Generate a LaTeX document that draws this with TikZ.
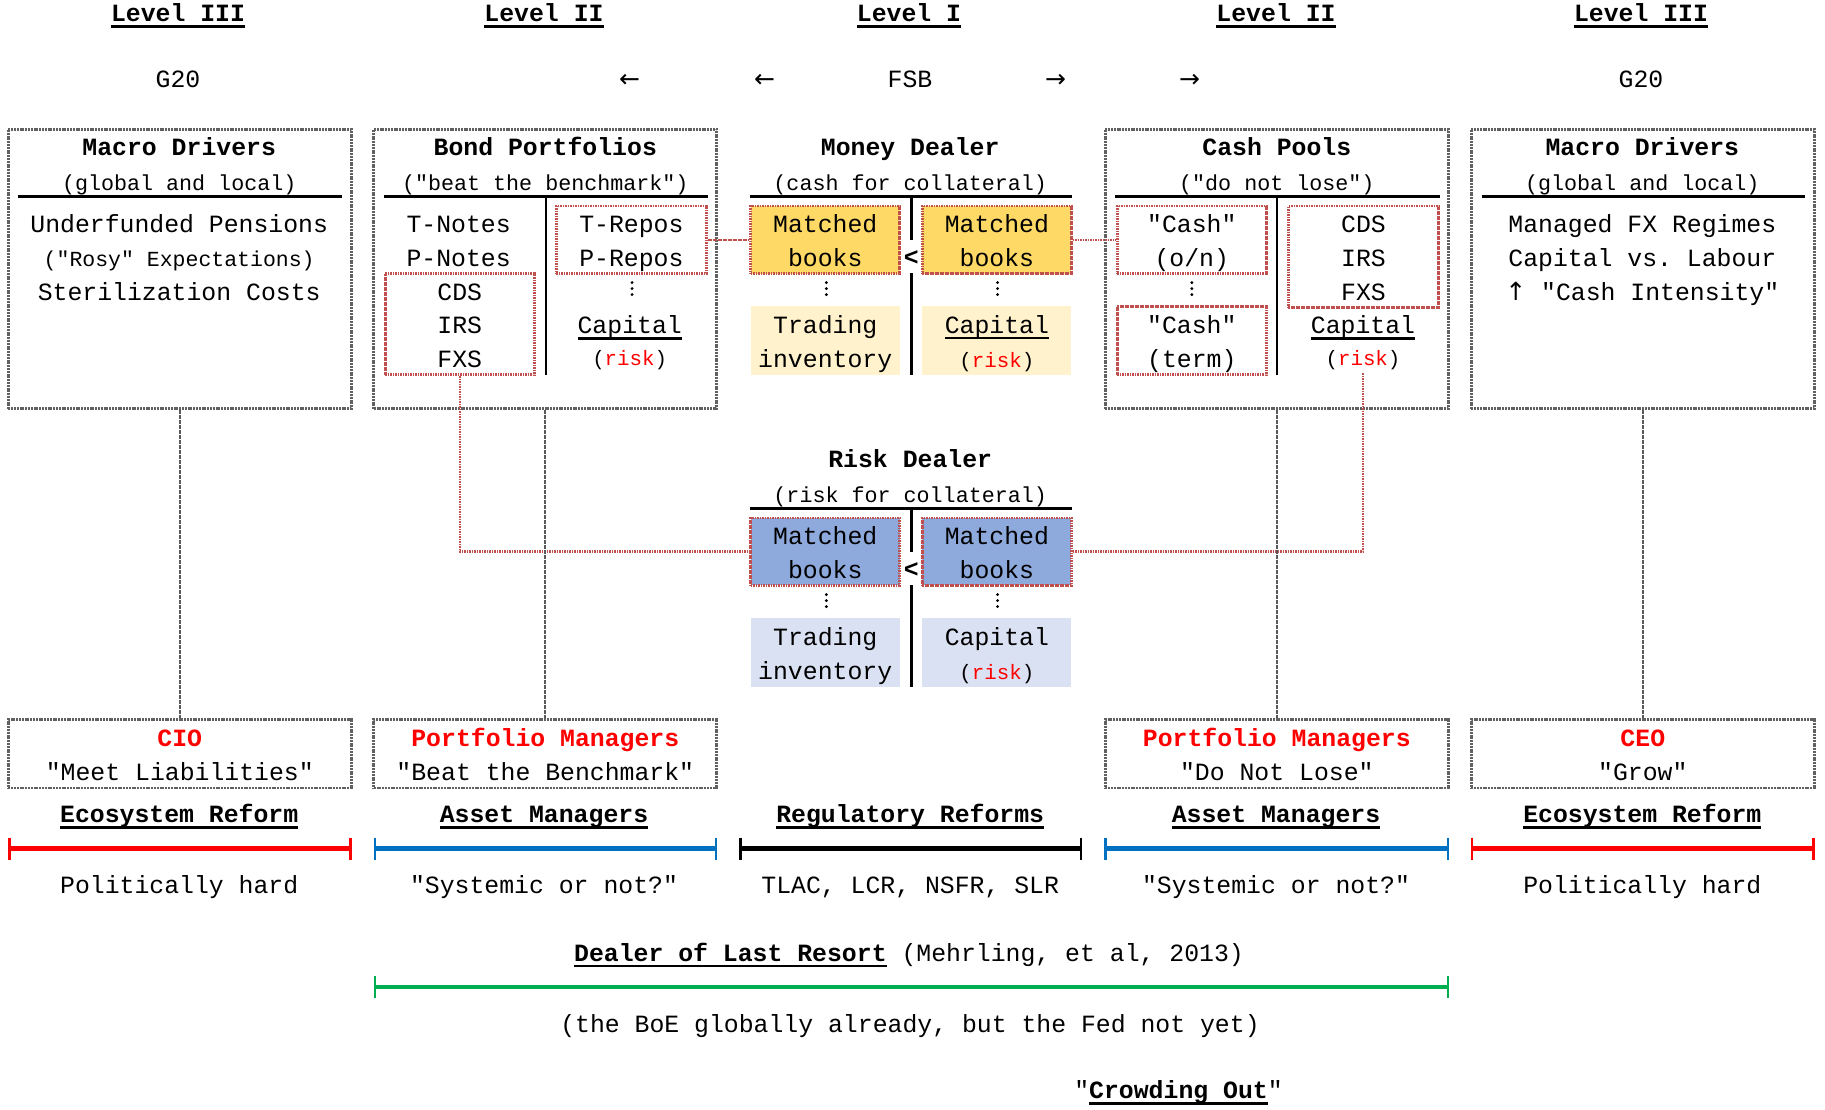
\documentclass[tikz,border=0pt]{standalone}
\usepackage{fontspec}
\setmonofont{Liberation Mono}
\renewcommand\familydefault{\ttdefault}
\newfontfamily\arrfont{DejaVu Sans}
\definecolor{rb}{RGB}{192,80,77}
\definecolor{ydark}{RGB}{255,217,102}
\definecolor{ylight}{RGB}{255,242,204}
\definecolor{bdark}{RGB}{142,169,219}
\definecolor{blight}{RGB}{217,225,242}
\definecolor{myred}{RGB}{255,0,0}
\definecolor{myblue}{RGB}{0,112,192}
\definecolor{mygreen}{RGB}{0,176,80}
\newcommand\ulx[1]{\setbox0=\hbox{#1}\rlap{\rule[-6pt]{\wd0}{2.5pt}}\box0}
\newcommand\rk{{\fontsize{20.8}{20.8}\selectfont(\textcolor{myred}{risk})}}
\newcommand\lns[1]{\rule{0pt}{26pt}#1\rule[-6.6pt]{0pt}{6.6pt}}
\newcommand\arw[1]{{\arrfont\fontsize{25}{25}\selectfont #1}}
\newcommand\mybar[4]{\draw[#1,line width=4.5] (#2,#4)--(#3,#4);
  \draw[#1,line width=2.5] (#2,#4-11)--(#2,#4+11) (#3,#4-11)--(#3,#4+11);}
\begin{document}
\begin{tikzpicture}[x=1pt,y=-1pt,
  every node/.style={font=\fontsize{24.8}{33.8}\selectfont, inner sep=0pt},
  t/.style={anchor=base},
  sub/.style={anchor=base, font=\fontsize{21.7}{33.8}\selectfont},
  tb/.style={anchor=base, font=\fontsize{24.8}{33.8}\selectfont\bfseries},
  gbox/.style={draw=black!62, line width=2.7, dash pattern=on 2pt off 0.8pt, minimum width=343, align=center},
  rbox/.style={draw=rb, line width=2.8, dash pattern=on 1.6pt off 0.9pt, align=center},
  ybox/.style={rbox, fill=ydark, minimum width=149, minimum height=67.5},
  bbox/.style={rbox, fill=bdark, minimum width=149, minimum height=67.5},
  lybox/.style={fill=ylight, minimum width=149, minimum height=68.7, align=center},
  lbbox/.style={fill=blight, minimum width=149, minimum height=68.7, align=center},
  rline/.style={draw=rb, line width=2.5, dash pattern=on 1.6pt off 0.9pt},
  gline/.style={draw=black!65, line width=2, dash pattern=on 1.6pt off 0.9pt},
  rule/.style={line width=2.5},
  vd/.pic={\fill (0,-6) circle (1.6); \fill (0,0) circle (1.6); \fill (0,6) circle (1.6);}
]
\useasboundingbox (0,0) rectangle (1825,1110);

% ---- top row
\node[tb] (lv1) at (178,22) {\ulx{Level III}};
\node[tb] (lv2) at (544,22) {\ulx{Level II}};
\node[tb] (lv3) at (909,22) {\ulx{Level I}};
\node[tb] (lv4) at (1276,22) {\ulx{Level II}};
\node[tb] (lv5) at (1641,22) {\ulx{Level III}};
\node[t] (g1) at (178,88) {G20};
\node[t] (a1) at (629.7,88) {\arw{←}};
\node[t] (a2) at (764.7,88) {\arw{←}};
\node[t] (fsb) at (910,88) {FSB};
\node[t] (a3) at (1055.7,88) {\arw{→}};
\node[t] (a4) at (1189.5,88) {\arw{→}};
\node[t] (g2) at (1641,88) {G20};

% ---- big boxes
\node[gbox, minimum height=279.3] (mdL) at (179.8,268.9) {};
\node[gbox, minimum height=279.3] (bp) at (545.3,268.9) {};
\node[gbox, minimum height=279.3] (cp) at (1276.8,268.9) {};
\node[gbox, minimum height=279.3] (mdR) at (1642.8,268.9) {};

% Macro drivers left
\node[tb] (mdLt) at (179.2,155.8) {Macro Drivers};
\node[sub] (mdLs) at (179.2,190.7) {(global and local)};
\draw[rule] (17.5,196.7) -- (342.2,196.7);
\node[t] (mdL1) at (179.2,232.6) {Underfunded Pensions};
\node[t, font=\fontsize{21.5}{25}\selectfont] (mdL2) at (179.2,266.4) {("Rosy" Expectations)};
\node[t] (mdL3) at (179.2,300.1) {Sterilization Costs};

% Bond portfolios
\node[tb] (bpt) at (545.3,155.8) {Bond Portfolios};
\node[sub] (bps) at (545.3,190.7) {("beat the benchmark")};
\draw[rule] (384,196.7) -- (707.6,196.7);
\draw[rule] (545.9,196.7) -- (545.9,374.8);
\node[t] (tn) at (458.6,232.6) {T-Notes};
\node[t] (pn) at (458.6,266.4) {P-Notes};
\node[rbox, minimum width=148.9, minimum height=101.3] (bpd) at (459.8,324.2) {\lns{CDS\\IRS\\FXS}};
\node[rbox, minimum width=150.2, minimum height=67.5] (bpr) at (631.4,239.8) {\lns{T-Repos\\P-Repos}};
\pic at (632,288.6) {vd};
\node[t] (bpc) at (629.7,333.9) {\ulx{Capital}};
\node[t] (bpk) at (629.7,365.3) {\rk};

% Money dealer
\node[tb] (mdt) at (910.2,155.8) {Money Dealer};
\node[sub] (mds) at (910.2,190.7) {(cash for collateral)};
\draw[rule] (749.6,196.7) -- (1072,196.7);
\draw[rule] (911.3,196.7) -- (911.3,240) (911.3,273) -- (911.3,374.8);
\node[ybox] (mbL) at (825.2,239.8) {\lns{Matched\\books}};
\node[ybox] (mbR) at (996.9,239.8) {\lns{Matched\\books}};
\node[tb] (mlt) at (911.3,265.2) {<};
\pic at (826.4,288.6) {vd};
\pic at (997.5,288.6) {vd};
\node[lybox] (mti) at (825.2,340.5) {\lns{Trading\\inventory}};
\node[lybox] (mcap) at (996.9,340.5) {\lns{\ulx{Capital}\\\rk}};

% Cash pools
\node[tb] (cpt) at (1276.8,155.8) {Cash Pools};
\node[sub] (cps) at (1276.8,190.7) {("do not lose")};
\draw[rule] (1115,196.7) -- (1439.8,196.7);
\draw[rule] (1276.8,196.7) -- (1276.8,374.8);
\node[rbox, minimum width=149, minimum height=67.5] (con) at (1191.8,239.8) {\lns{"Cash"\\(o/n)}};
\pic at (1191.8,288.6) {vd};
\node[rbox, minimum width=149, minimum height=68.7] (ctm) at (1191.8,340.5) {\lns{"Cash"\\(term)}};
\node[rbox, minimum width=150.2, minimum height=101.3] (cpd) at (1363.5,256.7) {\lns{CDS\\IRS\\FXS}};
\node[t] (cpc) at (1363,333.9) {\ulx{Capital}};
\node[t] (cpk) at (1363,365.3) {\rk};
\coordinate (cpr) at (1363,373);

% Macro drivers right
\node[tb] (mdRt) at (1642.3,155.8) {Macro Drivers};
\node[sub] (mdRs) at (1642.3,190.7) {(global and local)};
\draw[rule] (1481.6,196.7) -- (1805.2,196.7);
\node[t] (mdR1) at (1642.3,232.6) {Managed FX Regimes};
\node[t] (mdR2) at (1642.3,266.4) {Capital vs. Labour};
\node[t] (mdR3) at (1642.3,300.1) {\arw{↑} "Cash Intensity"};

% Risk dealer
\node[tb] (rdt) at (910.2,467.7) {Risk Dealer};
\node[sub] (rds) at (910.2,502.7) {(risk for collateral)};
\draw[rule] (749.6,508.6) -- (1072,508.6);
\draw[rule] (911.3,508.6) -- (911.3,552) (911.3,585) -- (911.3,686.7);
\node[bbox] (rbL) at (825.2,551.7) {\lns{Matched\\books}};
\node[bbox] (rbR) at (996.9,551.7) {\lns{Matched\\books}};
\node[tb] (rlt) at (911.3,577.1) {<};
\pic at (826.4,600.6) {vd};
\pic at (997.5,600.6) {vd};
\node[lbbox] (rti) at (825.2,652.4) {\lns{Trading\\inventory}};
\node[lbbox] (rcap) at (996.9,652.4) {\lns{Capital\\\rk}};

% red connectors
\draw[rline] (bpr.east) -- (mbL.west);
\draw[rline] (mbR.east) -- (con.west);
\draw[rline] (bpd.south) |- (rbL.west);
\draw[rline] (cpr) |- (rbR.east);

% bottom boxes
\node[gbox, minimum height=68.7] (cio) at (179.8,753.7) {\lns{\textcolor{myred}{\bfseries CIO}\\"Meet Liabilities"}};
\node[gbox, minimum height=68.7] (pm1) at (545.3,753.7) {\lns{\textcolor{myred}{\bfseries Portfolio Managers}\\"Beat the Benchmark"}};
\node[gbox, minimum height=68.7] (pm2) at (1276.8,753.7) {\lns{\textcolor{myred}{\bfseries Portfolio Managers}\\"Do Not Lose"}};
\node[gbox, minimum height=68.7] (ceo) at (1642.8,753.7) {\lns{\textcolor{myred}{\bfseries CEO}\\"Grow"}};

% gray connectors
\draw[gline] (mdL.south) -- (cio.north);
\draw[gline] (bp.south) -- (pm1.north);
\draw[gline] (cp.south) -- (pm2.north);
\draw[gline] (mdR.south) -- (ceo.north);

% reforms
\node[tb] (er1) at (179.2,822.7) {\ulx{Ecosystem Reform}};
\node[tb] (am1) at (544,822.7) {\ulx{Asset Managers}};
\node[tb] (rr) at (910.2,822.7) {\ulx{Regulatory Reforms}};
\node[tb] (am2) at (1276,822.7) {\ulx{Asset Managers}};
\node[tb] (er2) at (1642.3,822.7) {\ulx{Ecosystem Reform}};
\mybar{myred}{9.3}{350.3}{848.5}
\mybar{myblue}{374.8}{715.8}{848.5}
\mybar{black}{740.3}{1081.2}{848.5}
\mybar{myblue}{1105.7}{1447.8}{848.5}
\mybar{myred}{1472.2}{1813.3}{848.5}
\node[t] (ph1) at (179.2,893.7) {Politically hard};
\node[t] (sy1) at (544,893.7) {"Systemic or not?"};
\node[t] (tl) at (910.2,893.7) {TLAC, LCR, NSFR, SLR};
\node[t] (sy2) at (1276,893.7) {"Systemic or not?"};
\node[t] (ph2) at (1642.3,893.7) {Politically hard};

% dealer of last resort
\node[t] (dlr) at (909,961.2) {{\bfseries\ulx{Dealer of Last Resort}} (Mehrling, et al, 2013)};
\mybar{mygreen}{374.8}{1447.8}{987}
\node[t] (boe) at (910,1032.2) {(the BoE globally already, but the Fed not yet)};
\node[t] (co) at (1178.5,1098.6) {"{\bfseries\ulx{Crowding Out}}"};
\end{tikzpicture}
\end{document}
